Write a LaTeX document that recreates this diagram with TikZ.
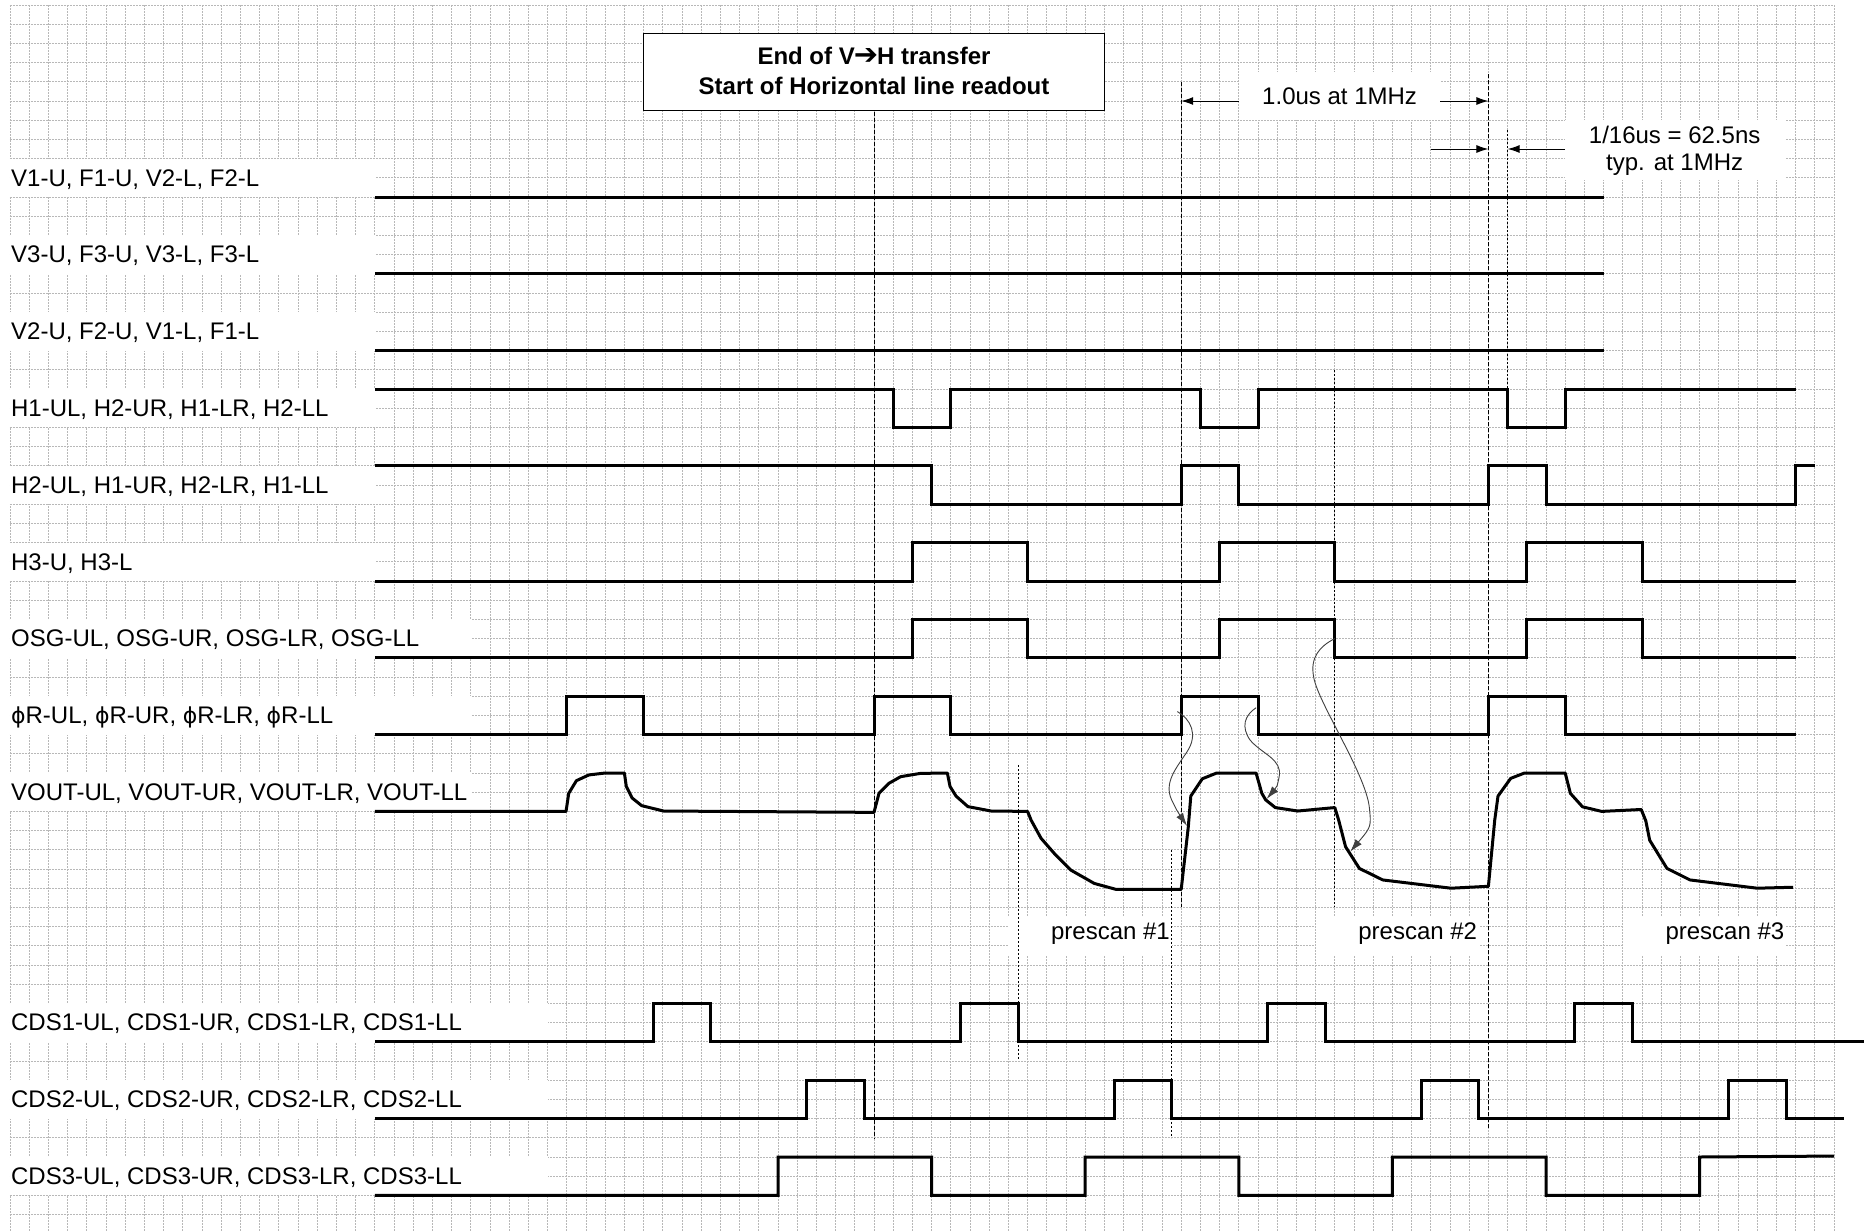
\documentclass[tikz,border=0pt]{standalone}
\usepackage{fontspec}
\setmainfont{Liberation Sans}
\newfontfamily\dejavu{DejaVu Sans}
\usetikzlibrary{arrows.meta}
\newcommand{\phiR}{{\dejavu\fontsize{22}{26}\selectfont ϕ}R}
\begin{document}
\begin{tikzpicture}[x=19.2pt,y=-19.2pt,
  gridl/.style={draw=black!28,line width=0.8pt,dash pattern=on 2pt off 1pt},
  sig/.style={line width=3pt,line join=miter},
  dashA/.style={line width=1pt,dash pattern=on 4pt off 2pt},
  dashB/.style={line width=1pt,dash pattern=on 2pt off 2pt},
  whitebox/.style={fill=white,draw=none},
  lbl/.style={anchor=base west,inner sep=0pt,font=\fontsize{24}{28}\selectfont},
  txt/.style={inner sep=0pt,font=\fontsize{24}{28}\selectfont},
  dimarrow/.style={line width=1pt,-{Latex[length=12pt,width=8pt]}},
  curvearrow/.style={line width=0.9pt,draw=black!75,-{Latex[length=13pt,width=8pt]}}
]
\useasboundingbox[fill=white] (-0.5208,-0.2604) rectangle (96.5625,63.854);
% grid
\foreach \i in {0,...,95} \draw[gridl] (\i,0) -- (\i,63.854);
\foreach \j in {0,...,63} \draw[gridl] (0,\j) -- (95,\j);
% label backgrounds
\foreach \yc/\xw in {9/19,13/19,17/19,21/19,25/19,29/19,33/24,37/24,41/24,53/28,57/28,61/28}
  \fill[whitebox] (0,\yc-1) rectangle (\xw,\yc+1);
% annotation backgrounds
\fill[whitebox] (64,3.5) rectangle (74.5,6);
\fill[whitebox] (81,6) rectangle (92.5,9.1);
\fill[whitebox] (52,47.5) rectangle (60.5,49.5);
\fill[whitebox] (68,47.5) rectangle (76.5,49.5);
\fill[whitebox] (84,47.5) rectangle (92.5,49.5);
% title box
\node[draw,line width=1.2pt,fill=white,minimum width=24*19.2pt,minimum height=4*19.2pt,inner sep=0pt] (title) at (45,3.5) {};
\node[txt,anchor=base,font=\bfseries\fontsize{24}{28}\selectfont] (title1) at (45,3.1) {End of V{\dejavu\bfseries\fontsize{29}{30}\selectfont\kern-1pt➔\kern-1pt}H transfer};
\node[txt,anchor=base,font=\bfseries\fontsize{24}{28}\selectfont] (title2) at (45,4.65) {Start of Horizontal line readout};
% markers
\coordinate (d1t) at (45,5.55); \coordinate (d1b) at (45,59);
\coordinate (d2t) at (61,4); \coordinate (d2b) at (61,47);
\coordinate (d3t) at (60.5,44); \coordinate (d3b) at (60.5,59);
\coordinate (d4t) at (77,3.6); \coordinate (d4b) at (77,58.5);
\coordinate (d5t) at (78,6.5); \coordinate (d5b) at (78,20);
\coordinate (d6t) at (52.5,39.6); \coordinate (d6b) at (52.5,55);
\coordinate (d7t) at (69,19); \coordinate (d7b) at (69,47);
\draw[dashA] (d1t) -- (d1b);
\draw[dashA] (d2t) -- (d2b);
\draw[dashB] (d3t) -- (d3b);
\draw[dashA] (d4t) -- (d4b);
\draw[dashB] (d5t) -- (d5b);
\draw[dashB] (d6t) -- (d6b);
\draw[dashB] (d7t) -- (d7b);
% labels
\node[lbl] (lv1) at (0.05,9.43) {V1-U, F1-U, V2-L, F2-L};
\node[lbl] (lv3) at (0.05,13.43) {V3-U, F3-U, V3-L, F3-L};
\node[lbl] (lv2) at (0.05,17.43) {V2-U, F2-U, V1-L, F1-L};
\node[lbl] (lh1) at (0.05,21.43) {H1-UL, H2-UR, H1-LR, H2-LL};
\node[lbl] (lh2) at (0.05,25.43) {H2-UL, H1-UR, H2-LR, H1-LL};
\node[lbl] (lh3) at (0.05,29.43) {H3-U, H3-L};
\node[lbl] (losg) at (0.05,33.43) {OSG-UL, OSG-UR, OSG-LR, OSG-LL};
\node[lbl] (lphi) at (0.05,37.43) {\phiR-UL, \phiR-UR, \phiR-LR, \phiR-LL};
\node[lbl] (lvout) at (0.05,41.43) {VOUT-UL, VOUT-UR, VOUT-LR, VOUT-LL};
\node[lbl] (lcds1) at (0.05,53.43) {CDS1-UL, CDS1-UR, CDS1-LR, CDS1-LL};
\node[lbl] (lcds2) at (0.05,57.43) {CDS2-UL, CDS2-UR, CDS2-LR, CDS2-LL};
\node[lbl] (lcds3) at (0.05,61.43) {CDS3-UL, CDS3-UR, CDS3-LR, CDS3-LL};
% signals
\draw[sig] (19,10) -- (83,10);
\draw[sig] (19,14) -- (83,14);
\draw[sig] (19,18) -- (83,18);
\draw[sig] (19,20) -- (46,20) -- (46,22) -- (49,22) -- (49,20) -- (62,20) -- (62,22) -- (65,22) -- (65,20) -- (78,20) -- (78,22) -- (81,22) -- (81,20) -- (93,20);
\draw[sig] (19,24) -- (48,24) -- (48,26) -- (61,26) -- (61,24) -- (64,24) -- (64,26) -- (77,26) -- (77,24) -- (80,24) -- (80,26) -- (93,26) -- (93,24) -- (94,24);
\draw[sig] (19,30) -- (47,30) -- (47,28) -- (53,28) -- (53,30) -- (63,30) -- (63,28) -- (69,28) -- (69,30) -- (79,30) -- (79,28) -- (85,28) -- (85,30) -- (93,30);
\draw[sig] (19,34) -- (47,34) -- (47,32) -- (53,32) -- (53,34) -- (63,34) -- (63,32) -- (69,32) -- (69,34) -- (79,34) -- (79,32) -- (85,32) -- (85,34) -- (93,34);
\draw[sig] (19,38) -- (29,38) -- (29,36) -- (33,36) -- (33,38) -- (45,38) -- (45,36) -- (49,36) -- (49,38) -- (61,38) -- (61,36) -- (65,36) -- (65,38) -- (77,38) -- (77,36) -- (81,36) -- (81,38) -- (93,38);
\draw[sig,line join=round] (19,42) -- (28.96,42) -- (29.1,41.06) -- (29.5,40.4) -- (30.15,40.1) -- (31,40) -- (32,40) -- (32.1,40.7) -- (32.4,41.3) -- (32.9,41.7) -- (34.04,41.98) -- (45,42.05)
  -- (45.26,41.06) -- (45.77,40.54) -- (46.39,40.19) -- (47.42,40.02) -- (48.82,40) -- (48.96,40.7) -- (49.27,41.2) -- (49.89,41.75) -- (51.1,41.98) -- (53,42) -- (53.18,42.45) -- (53.7,43.4) -- (54.4,44.2) -- (55.24,45.05) -- (56.47,45.75) -- (57.6,46.06) -- (61,46.06)
  -- (61.37,42.8) -- (61.5,41.2) -- (62.1,40.3) -- (62.85,40) -- (64.9,40) -- (65.2,41.06) -- (65.4,41.4) -- (65.9,41.8) -- (67.07,41.98) -- (69,41.8) -- (69.2,42.45) -- (69.56,43.84) -- (70.28,44.97) -- (71.5,45.57) -- (75.05,46) -- (77,45.9)
  -- (77.33,42.45) -- (77.5,41.2) -- (78.16,40.28) -- (78.88,40) -- (81,40) -- (81.27,41.06) -- (81.9,41.76) -- (82.9,42) -- (84.96,41.9) -- (85.2,42.5) -- (85.4,43.5) -- (86.3,44.97) -- (87.5,45.57) -- (91,46) -- (92.87,45.95);
\draw[sig] (19,54) -- (33.5,54) -- (33.5,52) -- (36.5,52) -- (36.5,54) -- (49.5,54) -- (49.5,52) -- (52.5,52) -- (52.5,54) -- (65.5,54) -- (65.5,52) -- (68.5,52) -- (68.5,54) -- (81.5,54) -- (81.5,52) -- (84.5,52) -- (84.5,54) -- (96.6,54);
\draw[sig] (19,58) -- (41.5,58) -- (41.5,56) -- (44.5,56) -- (44.5,58) -- (57.5,58) -- (57.5,56) -- (60.5,56) -- (60.5,58) -- (73.5,58) -- (73.5,56) -- (76.5,56) -- (76.5,58) -- (89.5,58) -- (89.5,56) -- (92.5,56) -- (92.5,58) -- (95.5,58);
\draw[sig] (19,62) -- (40,62) -- (40,60) -- (48,60) -- (48,62) -- (56,62) -- (56,60) -- (64,60) -- (64,62) -- (72,62) -- (72,60) -- (80,60) -- (80,62) -- (88,62) -- (88,60) -- (95,59.95);
% annotations
\node[txt] (t1us) at (69.25,4.75) {1.0us at 1MHz};
\coordinate (a1l) at (64,5); \coordinate (a1r) at (74.5,5);
\coordinate (a1lt) at (61,5); \coordinate (a1rt) at (77,5);
\draw[dimarrow] (a1l) -- (a1lt);
\draw[dimarrow] (a1r) -- (a1rt);
\node[txt,anchor=base] (t16a) at (86.7,7.2) {1/16us = 62.5ns};
\node[txt,anchor=base] (t16b) at (86.7,8.6) {typ. at 1MHz};
\coordinate (a2l) at (74,7.5); \coordinate (a2lt) at (77,7.5);
\coordinate (a2r) at (81,7.5); \coordinate (a2rt) at (78,7.5);
\draw[dimarrow] (a2l) -- (a2lt);
\draw[dimarrow] (a2r) -- (a2rt);
\node[txt,anchor=base east] (ps1) at (60.42,48.66) {prescan \#1};
\node[txt,anchor=base east] (ps2) at (76.42,48.66) {prescan \#2};
\node[txt,anchor=base east] (ps3) at (92.42,48.66) {prescan \#3};
% curved arrows
\coordinate (c1s) at (60.8,36.8); \coordinate (c1e) at (61.3,42.75);
\coordinate (c2s) at (64.9,36.6); \coordinate (c2e) at (65.45,41.35);
\coordinate (c3s) at (69,33); \coordinate (c3e) at (69.8,44.1);
\draw[curvearrow] (c1s) .. controls (61.5,37.2) and (61.9,38.0) .. (61.3,38.9) .. controls (60.7,39.8) and (60.1,40.5) .. (60.5,41.4) .. controls (60.8,42.0) .. (c1e);
\draw[curvearrow] (c2s) .. controls (64.3,37.0) and (64.1,37.6) .. (64.6,38.3) .. controls (65.2,39.0) and (66.3,39.3) .. (66.1,40.2) .. controls (66.0,40.7) .. (c2e);
\draw[curvearrow] (c3s) .. controls (68.2,33.4) and (67.7,34.0) .. (67.9,35.0) .. controls (68.1,36.3) and (70.6,40.0) .. (70.8,41.8) .. controls (70.9,42.8) .. (c3e);
\end{tikzpicture}
\end{document}
